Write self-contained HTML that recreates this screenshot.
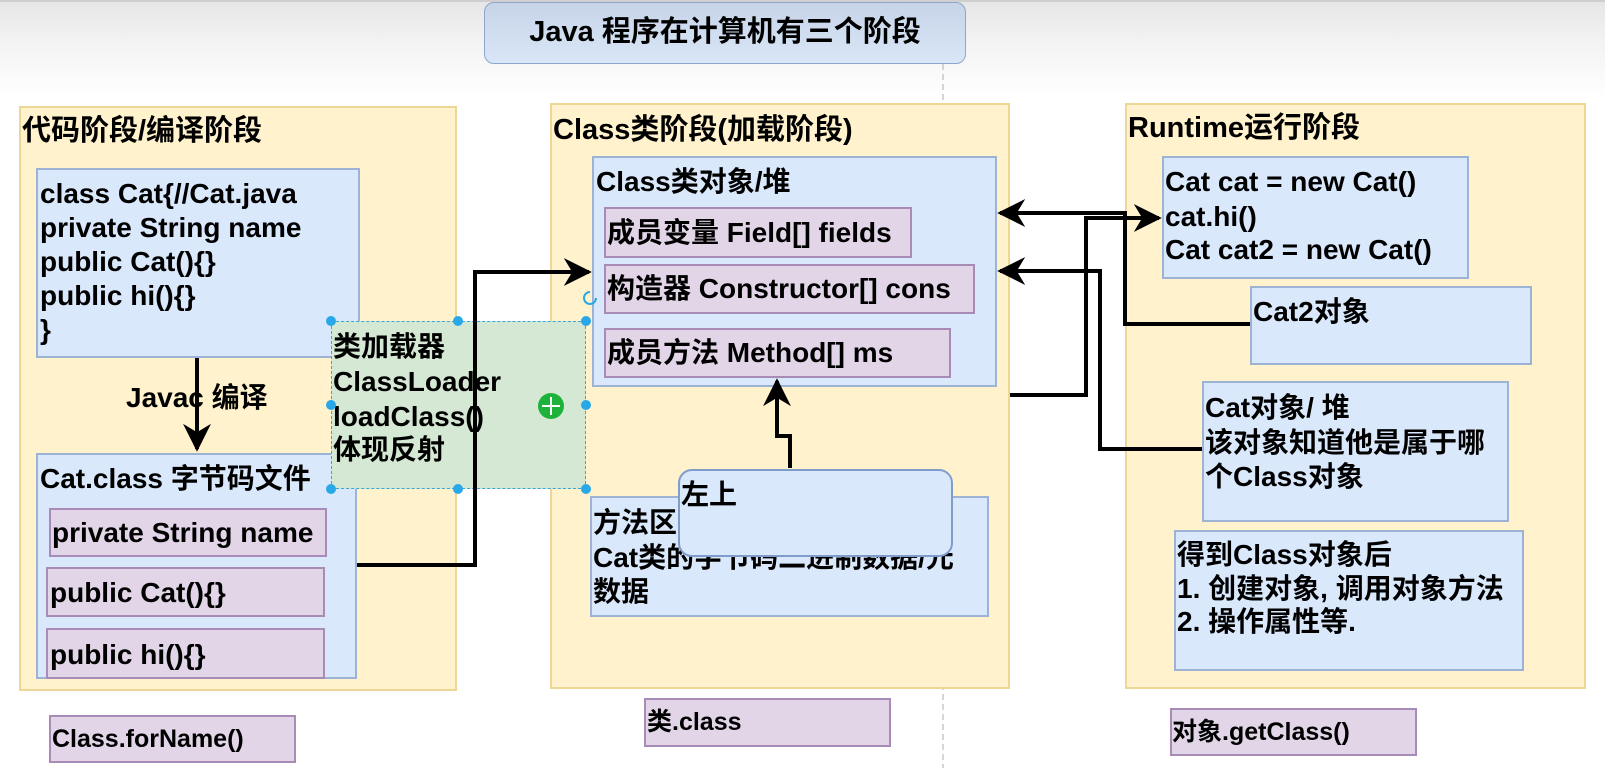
<!DOCTYPE html>
<html><head><meta charset="utf-8">
<style>
*{margin:0;padding:0;box-sizing:border-box}
body{width:1605px;height:768px;position:relative;overflow:hidden;background:#fff;font-family:"Liberation Sans","Noto Sans CJK SC",sans-serif;font-weight:bold;color:#000}
.b{position:absolute}
.panel{background:#fff2cc;border:2px solid #ecd796}
.blue{background:#dae8fc;border:2px solid #9db3d6}
.pur{background:#e1d5e7;border:2px solid #a98bb8}
.t{position:absolute;white-space:nowrap;font-size:28px;line-height:34px}
.s{position:absolute;white-space:nowrap;font-size:25px;line-height:30px}
</style></head><body>
<div class="b" style="left:0;top:0;width:1605px;height:100px;background:linear-gradient(#e6e6e6 0,#f3f3f3 40px,#fff 95px);border-top:2px solid #cfcfcf"></div>
<svg class="b" style="left:0;top:0" width="1605" height="768"><line x1="943" y1="64" x2="943" y2="768" stroke="#c8c8c8" stroke-width="1.5" stroke-dasharray="6,4"/></svg>
<div class="b" style="left:484px;top:2px;width:482px;height:62px;border-radius:10px;border:1.5px solid #8ea6cc;background:linear-gradient(#c7d4e8,#d9e6f7)"></div>
<div class="t" style="left:484px;width:482px;top:15px;text-align:center;font-size:29px">Java 程序在计算机有三个阶段</div>

<!-- panel 1 -->
<div class="b panel" style="left:19px;top:106px;width:438px;height:585px"></div>
<div class="t" style="left:22px;top:114px;font-size:29px">代码阶段/编译阶段</div>
<div class="b blue" style="left:36px;top:168px;width:324px;height:190px"></div>
<div class="t" style="left:40px;top:177px">class Cat{//Cat.java</div>
<div class="t" style="left:40px;top:211px">private String name</div>
<div class="t" style="left:40px;top:245px">public Cat(){}</div>
<div class="t" style="left:40px;top:279px">public hi(){}</div>
<div class="t" style="left:40px;top:313px">}</div>
<div class="t" style="left:126px;top:381px">Javac 编译</div>
<div class="b blue" style="left:36px;top:453px;width:321px;height:226px"></div>
<div class="t" style="left:40px;top:462px">Cat.class 字节码文件</div>
<div class="b pur" style="left:49px;top:508px;width:278px;height:49px"></div>
<div class="t" style="left:52px;top:516px">private String name</div>
<div class="b pur" style="left:46px;top:567px;width:279px;height:50px"></div>
<div class="t" style="left:50px;top:576px">public Cat(){}</div>
<div class="b pur" style="left:46px;top:628px;width:279px;height:51px"></div>
<div class="t" style="left:50px;top:638px">public hi(){}</div>
<div class="b pur" style="left:49px;top:715px;width:247px;height:48px"></div>
<div class="s" style="left:52px;top:724px">Class.forName()</div>

<!-- panel 2 -->
<div class="b panel" style="left:550px;top:103px;width:460px;height:586px"></div>
<div class="t" style="left:553px;top:113px;font-size:29px">Class类阶段(加载阶段)</div>
<div class="b blue" style="left:592px;top:156px;width:405px;height:231px"></div>
<div class="t" style="left:596px;top:165px">Class类对象/堆</div>
<div class="b pur" style="left:604px;top:207px;width:308px;height:51px"></div>
<div class="t" style="left:607px;top:216px">成员变量 Field[] fields</div>
<div class="b pur" style="left:604px;top:264px;width:371px;height:50px"></div>
<div class="t" style="left:607px;top:272px">构造器 Constructor[] cons</div>
<div class="b pur" style="left:604px;top:328px;width:347px;height:50px"></div>
<div class="t" style="left:607px;top:336px">成员方法 Method[] ms</div>
<div class="b blue" style="left:590px;top:496px;width:399px;height:121px"></div>
<div class="t" style="left:593px;top:506px">方法区</div>
<div class="t" style="left:593px;top:541px">Cat类的字节码二进制数据/元</div>
<div class="t" style="left:593px;top:575px">数据</div>
<div class="b" style="left:678px;top:469px;width:275px;height:88px;border-radius:14px;background:#dae8fc;border:2px solid #7f9ccb"></div>
<div class="t" style="left:681px;top:478px">左上</div>
<div class="b pur" style="left:644px;top:698px;width:247px;height:49px"></div>
<div class="s" style="left:647px;top:707px">类.class</div>

<!-- green loader (on top) -->
<div class="b" style="left:331px;top:321px;width:255px;height:168px;background:#d5e8d4;border:1.5px dashed #3aa6d8"></div>
<div class="t" style="left:333px;top:330px">类加载器</div>
<div class="t" style="left:333px;top:365px">ClassLoader</div>
<div class="t" style="left:333px;top:400px">loadClass()</div>
<div class="t" style="left:333px;top:433px">体现反射</div>

<!-- panel 3 -->
<div class="b panel" style="left:1125px;top:103px;width:461px;height:586px"></div>
<div class="t" style="left:1128px;top:111px;font-size:29px">Runtime运行阶段</div>
<div class="b blue" style="left:1162px;top:156px;width:307px;height:123px"></div>
<div class="t" style="left:1165px;top:165px">Cat cat = new Cat()</div>
<div class="t" style="left:1165px;top:200px">cat.hi()</div>
<div class="t" style="left:1165px;top:233px">Cat cat2 = new Cat()</div>
<div class="b blue" style="left:1250px;top:286px;width:282px;height:79px"></div>
<div class="t" style="left:1253px;top:295px">Cat2对象</div>
<div class="b blue" style="left:1202px;top:381px;width:307px;height:141px"></div>
<div class="t" style="left:1205px;top:391px">Cat对象/ 堆</div>
<div class="t" style="left:1205px;top:426px">该对象知道他是属于哪</div>
<div class="t" style="left:1205px;top:460px">个Class对象</div>
<div class="b blue" style="left:1174px;top:530px;width:350px;height:141px"></div>
<div class="t" style="left:1177px;top:538px">得到Class对象后</div>
<div class="t" style="left:1177px;top:572px">1. 创建对象, 调用对象方法</div>
<div class="t" style="left:1177px;top:605px">2. 操作属性等.</div>
<div class="b pur" style="left:1170px;top:708px;width:247px;height:48px"></div>
<div class="s" style="left:1172px;top:717px">对象.getClass()</div>

<svg class="b" style="left:0;top:0" width="1605" height="768">
<defs><marker id="a" viewBox="0 0 10 10" refX="9" refY="5" markerWidth="7" markerHeight="7" orient="auto" markerUnits="strokeWidth"><path d="M0,0 L10,5 L0,10 L3,5 z" fill="#000"/></marker></defs>
<g fill="none" stroke="#000" stroke-width="4">
<path d="M197 358 V449" marker-end="url(#a)"/>
<path d="M357 565 H475 V272 H589" marker-end="url(#a)"/>
<path d="M790 468 V436 H777 V381" marker-end="url(#a)"/>
<path d="M1010 395 H1086 V218 H1159" marker-end="url(#a)"/>
<path d="M1250 324 H1125 V213 H1000" marker-end="url(#a)"/>
<path d="M1202 449 H1100 V271 H1000" marker-end="url(#a)"/>
</g>
<g fill="#29a8e8">
<circle cx="331" cy="321" r="5"/><circle cx="458" cy="321" r="5"/><circle cx="586" cy="321" r="5"/>
<circle cx="331" cy="405" r="5"/><circle cx="586" cy="405" r="5"/>
<circle cx="331" cy="489" r="5"/><circle cx="458" cy="489" r="5"/><circle cx="586" cy="489" r="5"/>
</g>
<path d="M596 298 A6 6 0 1 1 590 292" fill="none" stroke="#29a8e8" stroke-width="2"/>
<circle cx="551" cy="406" r="13" fill="#1db33a"/>
<path d="M551 397 V415 M542 406 H560" stroke="#fff" stroke-width="2"/>
</svg>
</body></html>
